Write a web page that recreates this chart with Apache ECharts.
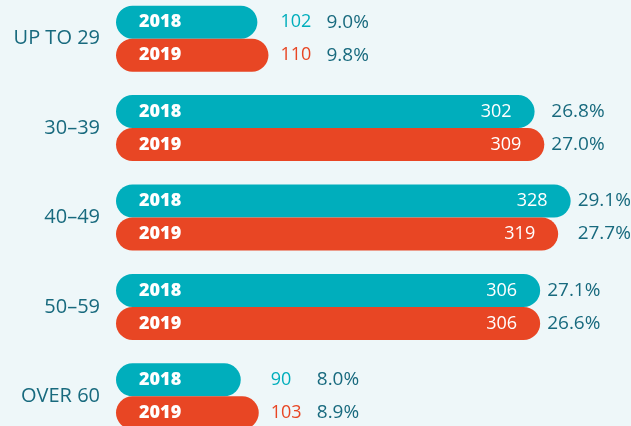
<!DOCTYPE html>
<html>
<head>
<meta charset="utf-8">
<script src="https://cdn.jsdelivr.net/npm/echarts@6/dist/echarts.min.js"></script>
<style>
    html, body { margin: 0; padding: 0; background: #eef7f9; }
    #chart { width: 631px; height: 426px; }
</style>
</head>
<body>
<div id="chart"></div>
<script>
    var categories = ['UP TO 29', '30–39', '40–49', '50–59', 'OVER 60'];
    var years = ['2018', '2019'];
    var values2018 = [102, 302, 328, 306, 90];
    var values2019 = [110, 309, 319, 306, 103];
    var share2018 = [9.0, 26.8, 29.1, 27.1, 8.0];
    var share2019 = [9.8, 27.0, 27.7, 26.6, 8.9];

    var teal = '#00aebc';
    var orange = '#e84624';
    var textColor = '#186a7e';
    var font = '"Open Sans", "Noto Sans", sans-serif';

    var chart = echarts.init(document.getElementById('chart'));

    // value + percentage labels, placed from the axis scale
    function renderLabels(params, api) {
        var i = api.value(0);
        var vals = [api.value(1), api.value(2)];
        var pcts = [api.value(3), api.value(4)];
        var colors = [teal, orange];
        var cy = api.coord([0, i])[1];
        var ends = [api.coord([vals[0], i])[0], api.coord([vals[1], i])[0]];
        var maxEnd = Math.max(ends[0], ends[1]);
        var children = [];
        for (var k = 0; k < 2; k++) {
            var y = cy + (k === 0 ? -16.5 : 16.5);
            var inside = vals[k] > 150;
            var numX = inside ? ends[k] - 23 : maxEnd + 12;
            var pctX = inside ? maxEnd + 7 : maxEnd + 58;
            children.push({
                type: 'text',
                style: {
                    x: numX, y: y, text: String(vals[k]),
                    fill: inside ? '#fff' : colors[k],
                    font: '18px ' + font,
                    textAlign: inside ? 'right' : 'left', align: inside ? 'right' : 'left',
                    textVerticalAlign: 'middle', verticalAlign: 'middle'
                }
            });
            children.push({
                type: 'text',
                style: {
                    x: pctX, y: y, text: pcts[k].toFixed(1) + '%',
                    fill: textColor,
                    font: '19px ' + font,
                    textAlign: 'left', align: 'left',
                    textVerticalAlign: 'middle', verticalAlign: 'middle'
                }
            });
        }
        return { type: 'group', children: children };
    }

    function yearLabel(name) {
        return {
            show: true,
            position: [23, '50%'],
            align: 'left',
            verticalAlign: 'middle',
            formatter: name,
            color: '#fff',
            fontSize: 18,
            fontWeight: 800,
            fontFamily: font
        };
    }

    chart.setOption({
        backgroundColor: '#eef7f9',
        animation: false,
        grid: { left: 116, right: 16, top: -6, bottom: -15, outerBoundsMode: 'none', containLabel: false },
        xAxis: {
            type: 'value',
            min: 0,
            max: 360,
            show: false
        },
        yAxis: {
            type: 'category',
            inverse: true,
            data: categories,
            axisLine: { show: false },
            axisTick: { show: false },
            splitLine: { show: false },
            axisLabel: {
                margin: 16,
                color: textColor,
                fontSize: 20,
                fontFamily: font
            }
        },
        series: [
            {
                name: years[0],
                type: 'bar',
                data: values2018,
                barWidth: 33,
                barGap: '0%',
                itemStyle: { color: teal, borderRadius: 17 },
                label: yearLabel(years[0])
            },
            {
                name: years[1],
                type: 'bar',
                data: values2019,
                barWidth: 33,
                barGap: '0%',
                itemStyle: { color: orange, borderRadius: 17 },
                label: yearLabel(years[1])
            },
            {
                type: 'custom',
                silent: true,
                z: 10,
                renderItem: renderLabels,
                encode: { x: [1, 2], y: 0 },
                data: categories.map(function (c, i) {
                    return [i, values2018[i], values2019[i], share2018[i], share2019[i]];
                })
            }
        ]
    });
</script>
</body>
</html>
